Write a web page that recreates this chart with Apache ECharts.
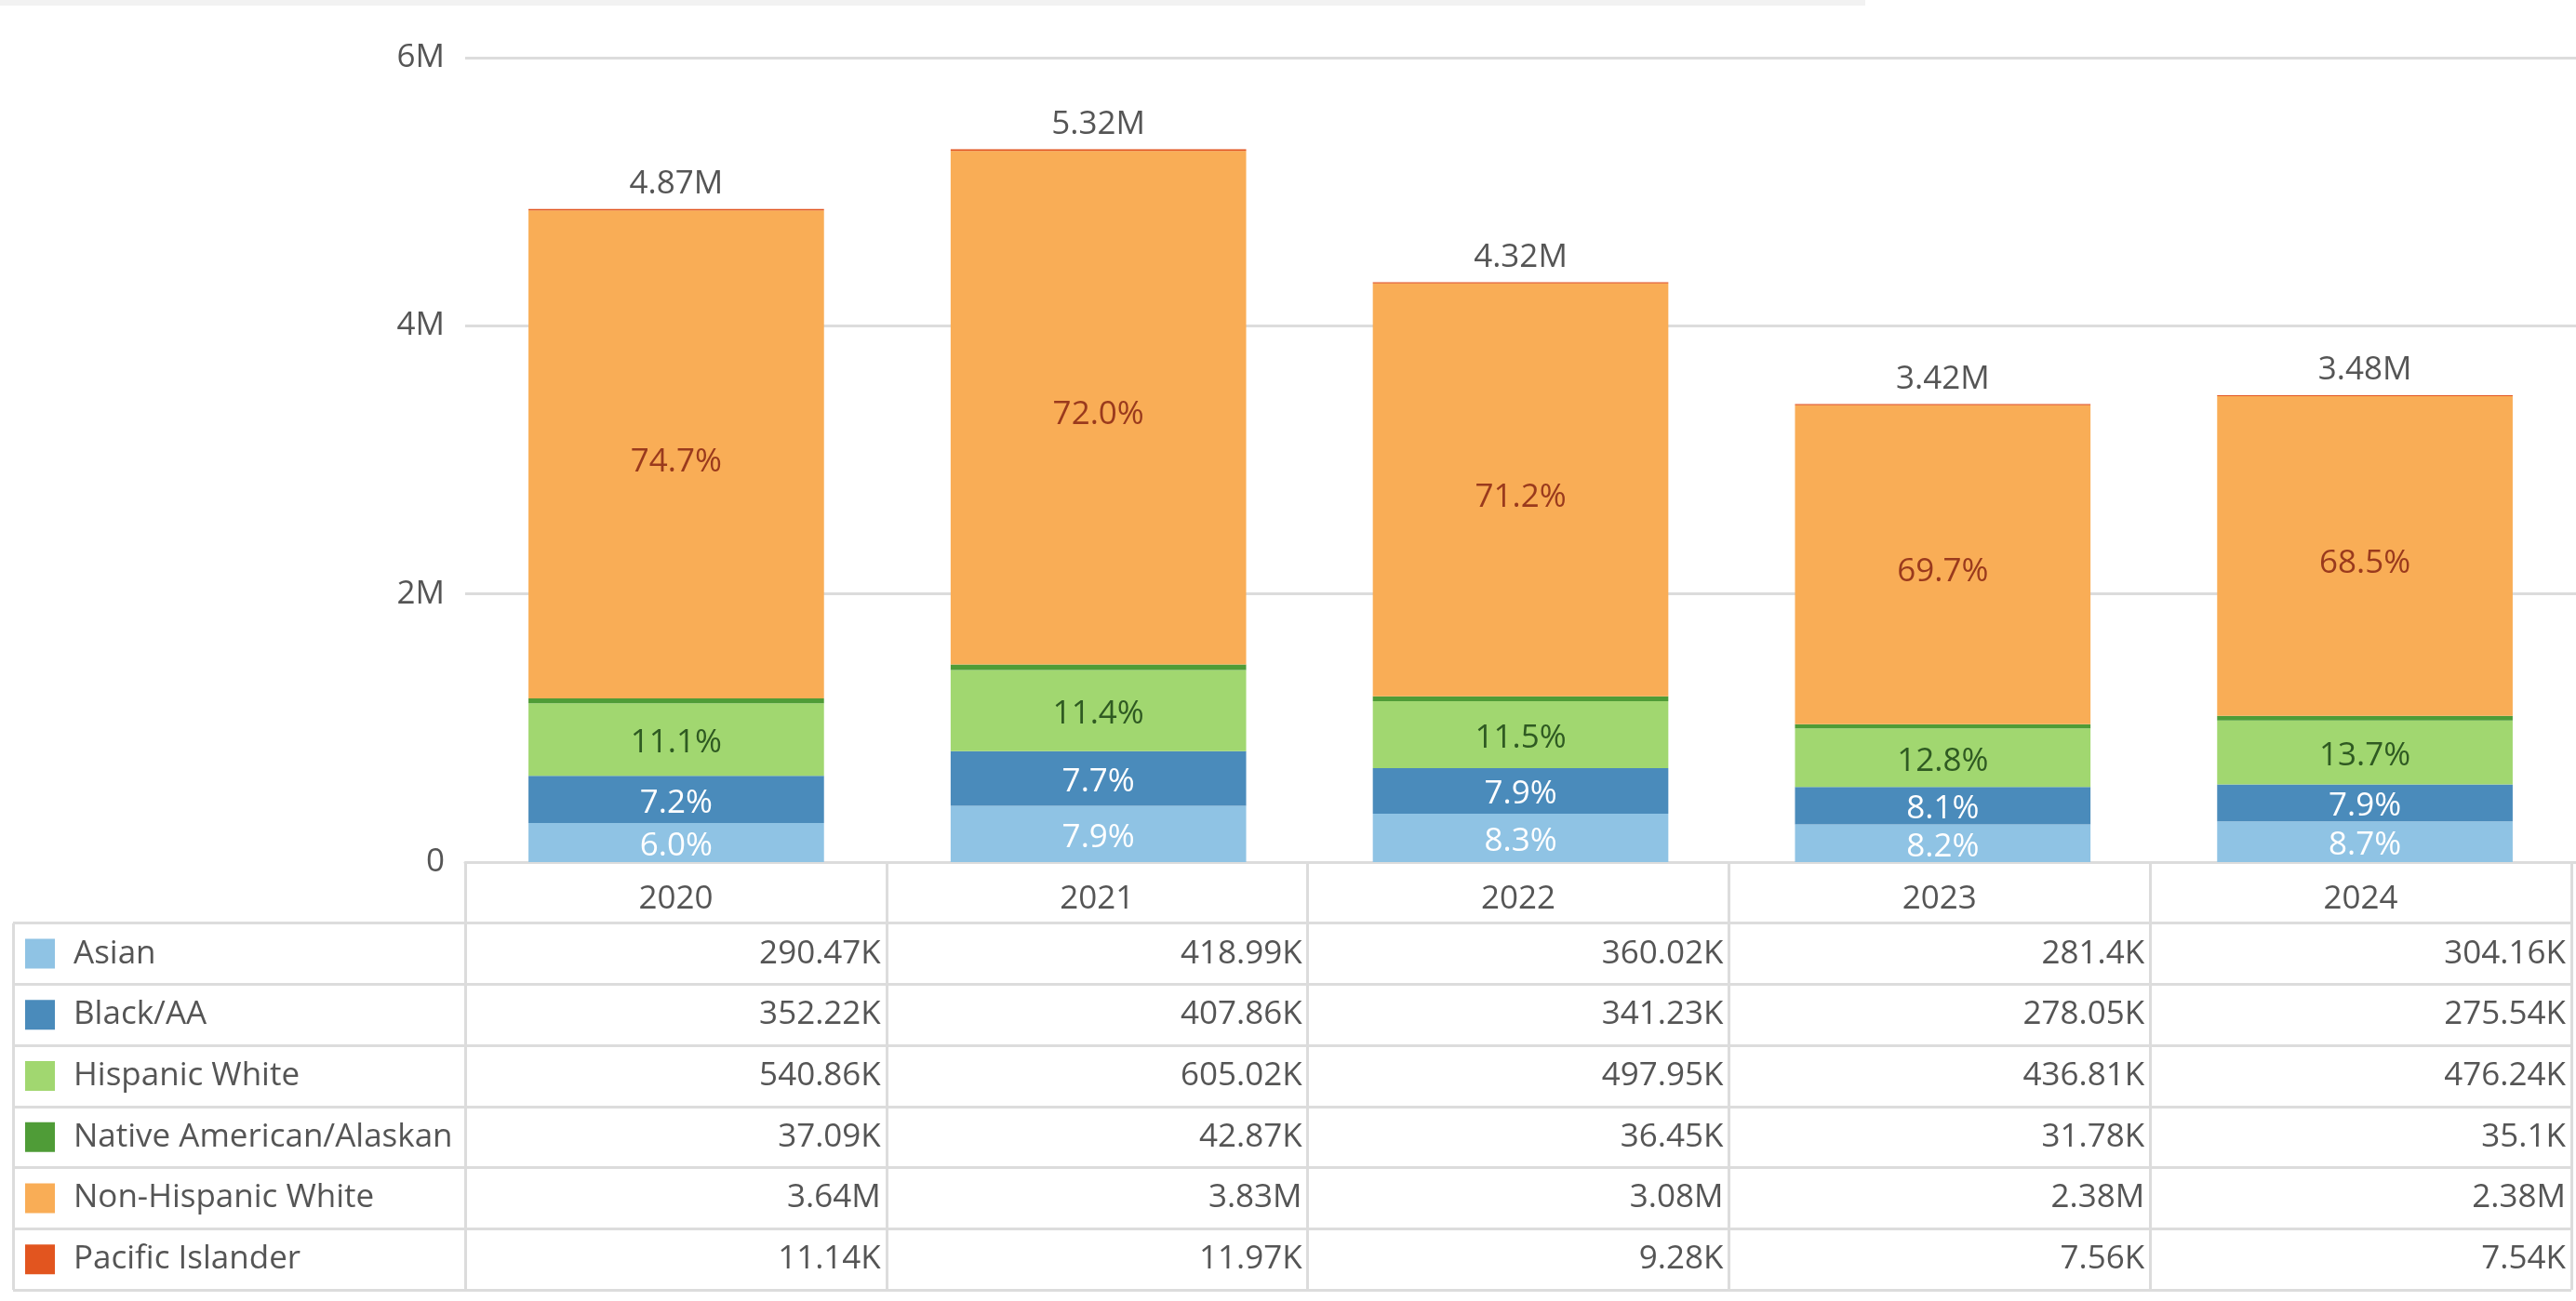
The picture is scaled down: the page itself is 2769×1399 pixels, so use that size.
<!DOCTYPE html>
<html>
<head>
<meta charset="utf-8">
<title>Population by group</title>
<script src="https://cdn.jsdelivr.net/npm/echarts@6/dist/echarts.min.js"></script>
<style>
  html, body { margin: 0; padding: 0; background: #fff; }
  #main { width: 2769px; height: 1399px; }
</style>
</head>
<body>
<div id="main"></div>
<script>
// data
var years = ['2020', '2021', '2022', '2023', '2024'];
var groups = ['Asian', 'Black/AA', 'Hispanic White', 'Native American/Alaskan', 'Non-Hispanic White', 'Pacific Islander'];
var asian = [290470, 418990, 360020, 281400, 304160];
var black = [352220, 407860, 341230, 278050, 275540];
var hispanic = [540860, 605020, 497950, 436810, 476240];
var nativeAm = [37090, 42870, 36450, 31780, 35100];
var nonHispanic = [3640000, 3830000, 3080000, 2380000, 2384000];
var pacific = [11140, 11970, 9280, 7560, 7540];
var yTicks = [0, 2000000, 4000000, 6000000];

var colors = ['#8fc3e4', '#4a8bbb', '#a1d770', '#4f9c37', '#f9ad56', '#e2551f'];
var pctColors = ['#ffffff', '#ffffff', '#2f5a22', null, '#9a3a1d', null];
var seriesValues = [asian, black, hispanic, nativeAm, nonHispanic, pacific];

var totals = years.map(function (y, i) {
  var s = 0;
  seriesValues.forEach(function (arr) { s += arr[i]; });
  return s;
});

function trim(n) {
  return n.toFixed(2).replace(/\.?0+$/, '');
}
function fmt(v) {
  if (v >= 1000000) return trim(v / 1000000) + 'M';
  if (v >= 1000) return trim(v / 1000) + 'K';
  return String(v);
}

var FONT = '"Open Sans", "Noto Sans", sans-serif';
var FS = 35;
var TXT = '#555555';
var LINE = '#dcdcdc';

// layout
var plotLeft = 500;
var plotTop = 62;
var zeroY = 927;
var tableH = 460;
var rowH = tableH / (groups.length + 1);

// table cells (row 0 is the year header)
var cellData = [], cellText = [];
years.forEach(function (y, i) {
  cellData.push([i, 0]);
  cellText.push(y);
  seriesValues.forEach(function (arr, g) {
    cellData.push([i, g + 1]);
    cellText.push(fmt(arr[i]));
  });
});

var series = groups.map(function (name, g) {
  var s = {
    name: name,
    type: 'bar',
    stack: 'total',
    xAxisIndex: 0,
    yAxisIndex: 0,
    barWidth: '70%',
    itemStyle: { color: colors[g] },
    data: seriesValues[g],
    label: { show: false }
  };
  if (pctColors[g]) {
    s.label = {
      show: true,
      position: 'inside',
      offset: [0, g === 4 ? 8 : 4],
      color: pctColors[g],
      fontSize: FS,
      fontFamily: FONT,
      formatter: function (p) {
        return (p.value / totals[p.dataIndex] * 100).toFixed(1) + '%';
      }
    };
  }
  if (g === groups.length - 1) {
    s.label = {
      show: true,
      position: 'top',
      distance: 9,
      color: TXT,
      fontSize: FS,
      fontFamily: FONT,
      formatter: function (p) { return fmt(totals[p.dataIndex]); }
    };
  }
  return s;
});

series.push({
  type: 'custom',
  xAxisIndex: 1,
  yAxisIndex: 1,
  silent: true,
  data: cellData,
  renderItem: function (params, api) {
    var p = api.coord([api.value(0), api.value(1)]);
    var sz = api.size([1, 1]);
    var head = api.value(1) === 0;
    return {
      type: 'text',
      style: {
        x: head ? p[0] : p[0] + sz[0] / 2 - 6,
        y: head ? p[1] + 7 : p[1],
        text: cellText[params.dataIndex],
        align: head ? 'center' : 'right',
        verticalAlign: 'middle',
        fill: TXT,
        fontSize: FS,
        fontFamily: FONT
      }
    };
  }
});

series.push({
  type: 'custom',
  xAxisIndex: 2,
  yAxisIndex: 2,
  silent: true,
  data: groups.map(function (n, g) { return [0, g]; }),
  renderItem: function (params, api) {
    var g = params.dataIndex;
    var p = api.coord([0, g]);
    var sz = api.size([1, 1]);
    var left = p[0] - sz[0] / 2;
    return {
      type: 'group',
      children: [
        { type: 'rect', shape: { x: left + 13, y: p[1] - 16, width: 32, height: 32 }, style: { fill: colors[g] } },
        { type: 'text', style: { x: left + 65, y: p[1], text: groups[g], align: 'left', verticalAlign: 'middle', fill: TXT, fontSize: FS, fontFamily: FONT } }
      ]
    };
  }
});

var chart = echarts.init(document.getElementById('main'));
chart.setOption({
  animation: false,
  backgroundColor: '#ffffff',
  graphic: [
    { type: 'rect', left: 0, top: 0, shape: { width: 2005, height: 6 }, style: { fill: '#f2f2f2' } }
  ],
  grid: [
    { left: plotLeft, right: 0, top: plotTop, height: zeroY - plotTop, containLabel: false },
    { left: plotLeft, right: 5, top: zeroY, height: tableH, containLabel: false },
    { left: 14, width: plotLeft - 14, top: zeroY + rowH, height: tableH - rowH, containLabel: false }
  ],
  xAxis: [
    {
      gridIndex: 0, type: 'category', data: years,
      axisLine: { show: true, lineStyle: { color: LINE, width: 3 } },
      axisTick: { show: false }, axisLabel: { show: false }, splitLine: { show: false }
    },
    {
      gridIndex: 1, type: 'category', data: years, position: 'top',
      axisLine: { show: false }, axisTick: { show: false }, axisLabel: { show: false },
      splitLine: { show: true, lineStyle: { color: LINE, width: 3 } }
    },
    {
      gridIndex: 2, type: 'category', data: [''],
      axisLine: { show: false }, axisTick: { show: false }, axisLabel: { show: false },
      splitLine: { show: true, lineStyle: { color: LINE, width: 3 } }
    }
  ],
  yAxis: [
    {
      gridIndex: 0, type: 'value', min: yTicks[0], max: yTicks[yTicks.length - 1],
      interval: yTicks[1] - yTicks[0],
      axisLine: { show: false }, axisTick: { show: false },
      axisLabel: {
        color: TXT, fontSize: FS, fontFamily: FONT, margin: 22, padding: [8, 0, 0, 0],
        formatter: function (v) { return v === 0 ? '0' : (v / 1000000) + 'M'; }
      },
      splitLine: { show: true, lineStyle: { color: LINE, width: 3 } }
    },
    {
      gridIndex: 1, type: 'category', inverse: true, data: [''].concat(groups),
      axisLine: { show: false }, axisTick: { show: false }, axisLabel: { show: false },
      splitLine: { show: true, lineStyle: { color: LINE, width: 3 } }
    },
    {
      gridIndex: 2, type: 'category', inverse: true, data: groups,
      axisLine: { show: false }, axisTick: { show: false }, axisLabel: { show: false },
      splitLine: { show: true, lineStyle: { color: LINE, width: 3 } }
    }
  ],
  series: series
});
</script>
</body>
</html>
